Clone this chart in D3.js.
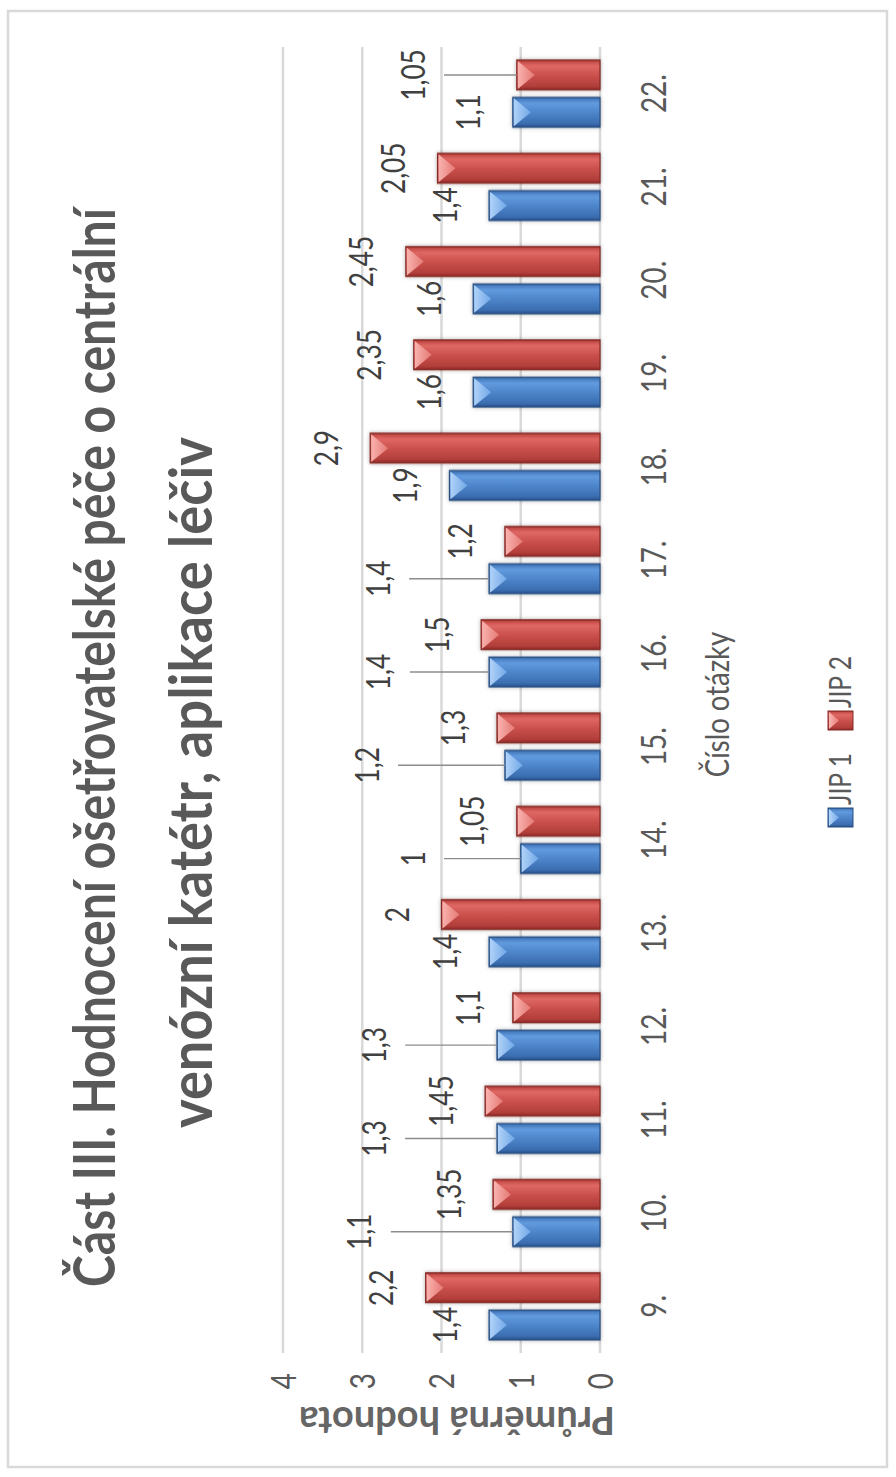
<!DOCTYPE html>
<html><head><meta charset="utf-8">
<script src="https://cdn.jsdelivr.net/npm/d3@7"></script>
<style>body{margin:0;background:#fff}svg{display:block}</style>
</head><body>
<svg id="c" width="896" height="1477"></svg>
<script>
// ---- data ----
const categories = ["9.","10.","11.","12.","13.","14.","15.","16.","17.","18.","19.","20.","21.","22."];
const seriesNames = ["JIP 1","JIP 2"];
const jip1 = [1.4,1.1,1.3,1.3,1.4,1,1.2,1.4,1.4,1.9,1.6,1.6,1.4,1.1];
const jip2 = [2.2,1.35,1.45,1.1,2,1.05,1.3,1.5,1.2,2.9,2.35,2.45,2.05,1.05];
// labels moved away from the bar (with leader line): value-axis position of the label, null = default
const jip1LabelAt = [null,3.03,2.85,2.85,null,2.36,2.94,2.79,2.80,null,null,null,null,null];
const jip2LabelAt = [null,null,null,null,null,null,null,null,null,null,null,null,null,2.36];
const valueTicks = [0,1,2,3,4];
const titleLines = ["Část III. Hodnocení ošetřovatelské péče o centrální","venózní katétr, aplikace léčiv"];
const xTitle = "Číslo otázky";
const yTitle = "Průměrná hodnota";

// ---- layout ----
const W = 896, H = 1477;
const FONT = "Lato, 'Open Sans', sans-serif";
const C = 0.82; // horizontal condensation of glyphs
const svg = d3.select("#c");
svg.append("rect").attr("width", W).attr("height", H).attr("fill", "#fff");
svg.append("rect").attr("x", 8).attr("y", 11).attr("width", 879).attr("height", 1456)
  .attr("fill", "none").attr("stroke", "#d9d9d9").attr("stroke-width", 2.5);

const defs = svg.append("defs");
const palettes = {
  "JIP 1": {stops: [[0,"#264f86"],[0.12,"#3a6db0"],[0.5,"#4f86cb"],[0.8,"#619ade"],[0.93,"#4a80c3"],[1,"#2d5a96"]],
            stroke: "#2a4f80", tri: ["#b5d6fa","#72a8e8"]},
  "JIP 2": {stops: [[0,"#8a2623"],[0.12,"#b23e3a"],[0.5,"#cb514d"],[0.8,"#df6864"],[0.93,"#c84f4b"],[1,"#98302c"]],
            stroke: "#842a27", tri: ["#fbb7b3","#e67a76"]}
};
seriesNames.forEach((s, i) => {
  const p = palettes[s];
  const lg = defs.append("linearGradient").attr("id", "g" + i).attr("x1", 0).attr("y1", 0).attr("x2", 1).attr("y2", 0);
  p.stops.forEach(st => lg.append("stop").attr("offset", st[0]).attr("stop-color", st[1]));
  const tg = defs.append("linearGradient").attr("id", "t" + i).attr("x1", 0).attr("y1", 0).attr("x2", 0).attr("y2", 1);
  tg.append("stop").attr("offset", 0).attr("stop-color", p.tri[0]);
  tg.append("stop").attr("offset", 1).attr("stop-color", p.tri[1]);
});
const f = defs.append("filter").attr("id", "sh").attr("x", "-20%").attr("y", "-20%").attr("width", "140%").attr("height", "140%");
f.append("feDropShadow").attr("dx", 0).attr("dy", 0).attr("stdDeviation", 2).attr("flood-color", "#000").attr("flood-opacity", 0.3);

// rotated chart group: gx runs upward on screen, gy runs rightward
const g = svg.append("g").attr("transform", `translate(0,${H}) rotate(-90)`);

const x0 = d3.scaleBand().domain(categories).range([124, 1430]).paddingInner(0.28).paddingOuter(0.14);
const x1 = d3.scaleBand().domain(seriesNames).range([0, x0.bandwidth()]).paddingInner(0.2);
const y = d3.scaleLinear().domain([0, 4]).range([600, 283]);

// gridlines
g.append("g").selectAll("line").data(valueTicks).join("line")
  .attr("x1", 124).attr("x2", 1430).attr("y1", d => y(d)).attr("y2", d => y(d))
  .attr("stroke", "#d9d9d9").attr("stroke-width", 2.5);

// value axis
const ya = g.append("g").attr("transform", "translate(124,0)")
  .call(d3.axisLeft(y).tickValues(valueTicks).tickSize(0).tickFormat(d3.format("d")));
ya.select(".domain").remove();
ya.selectAll("text").attr("x", null).attr("dy", "0.36em")
  .attr("transform", `translate(-20,0) scale(${C},1)`)
  .attr("font-family", FONT).attr("font-size", 34).attr("fill", "#595959");

// category axis
const xa = g.append("g").attr("transform", "translate(0,600)")
  .call(d3.axisBottom(x0).tickSize(0));
xa.select(".domain").remove();
xa.selectAll("text").attr("y", null).attr("dy", null)
  .attr("transform", `translate(0,66) scale(${C},1)`)
  .attr("font-family", FONT).attr("font-size", 34).attr("fill", "#595959");

// data
const rows = categories.map((c, i) => ({cat: c, vals: [
  {s: "JIP 1", si: 0, v: jip1[i], at: jip1LabelAt[i]},
  {s: "JIP 2", si: 1, v: jip2[i], at: jip2LabelAt[i]}]}));

const cg = g.append("g").selectAll("g").data(rows).join("g")
  .attr("transform", d => `translate(${x0(d.cat)},0)`);
const bar = cg.selectAll("g.bar").data(d => d.vals).join("g").attr("class", "bar");
bar.append("rect")
  .attr("x", d => x1(d.s)).attr("width", x1.bandwidth())
  .attr("y", d => y(d.v)).attr("height", d => y(0) - y(d.v))
  .attr("fill", d => `url(#g${d.si})`).attr("stroke", d => palettes[d.s].stroke).attr("stroke-width", 1.2)
  .attr("filter", "url(#sh)");
bar.append("path")
  .attr("d", d => {
    const bx = x1(d.s), bw = x1.bandwidth(), yv = y(d.v);
    return `M${bx + 1},${yv + 1}L${bx + bw - 1},${yv + 1}L${bx + bw / 2},${yv + 18}Z`;
  })
  .attr("fill", d => `url(#t${d.si})`).attr("opacity", 0.95);

// leader lines
bar.filter(d => d.at != null).append("line")
  .attr("x1", d => x1(d.s) + x1.bandwidth() / 2).attr("x2", d => x1(d.s) + x1.bandwidth() / 2)
  .attr("y1", d => y(d.at) + 31).attr("y2", d => y(d.v))
  .attr("stroke", "#8c8c8c").attr("stroke-width", 1.4);

// data labels
const fmt = v => String(v).replace(".", ",");
bar.append("text")
  .attr("transform", d => `translate(${x1(d.s) + x1.bandwidth() / 2},${d.at != null ? y(d.at) : y(d.v) - 44}) scale(${C},1)`)
  .attr("dy", "0.36em").attr("text-anchor", "middle")
  .attr("font-family", FONT).attr("font-size", 32).attr("fill", "#404040")
  .text(d => fmt(d.v));

// title (each line fitted to its measured length)
const tl = g.append("g");
[[729.5, 115, 1079, 58], [694.5, 212, 691, 60]].forEach((p, i) => {
  const t = tl.append("text")
    .attr("text-anchor", "middle").attr("font-family", FONT).attr("font-weight", "bold")
    .attr("font-size", p[3]).attr("fill", "#595959").text(titleLines[i]);
  const nat = t.node().getComputedTextLength() || p[2];
  t.attr("transform", `translate(${p[0]},${p[1]}) scale(${p[2] / nat},1)`);
});

// axis titles
g.append("text").attr("transform", `translate(772.5,729) scale(0.86,1)`)
  .attr("text-anchor", "middle").attr("font-family", FONT).attr("font-size", 32).attr("fill", "#595959").text(xTitle);
g.append("text").attr("transform", `translate(70,457) rotate(-90) scale(1.0,1)`)
  .attr("text-anchor", "middle").attr("font-family", FONT).attr("font-weight", "bold")
  .attr("font-size", 38).attr("fill", "#666666").text(yTitle);

// legend
const lgd = g.append("g").selectAll("g").data(seriesNames).join("g")
  .attr("transform", (d, i) => `translate(${[650, 747][i]},828)`);
lgd.append("rect").attr("width", 19).attr("height", 25)
  .attr("fill", (d, i) => `url(#g${i})`).attr("stroke", d => palettes[d].stroke).attr("stroke-width", 1);
lgd.append("path").attr("d", "M1,1L18,1L9.5,11Z").attr("fill", (d, i) => `url(#t${i})`);
lgd.append("text").attr("transform", `translate(22,12.5) scale(${C},1)`).attr("dy", "0.36em")
  .attr("font-family", FONT).attr("font-size", 30).attr("fill", "#595959").text(d => d);
</script>
</body></html>
